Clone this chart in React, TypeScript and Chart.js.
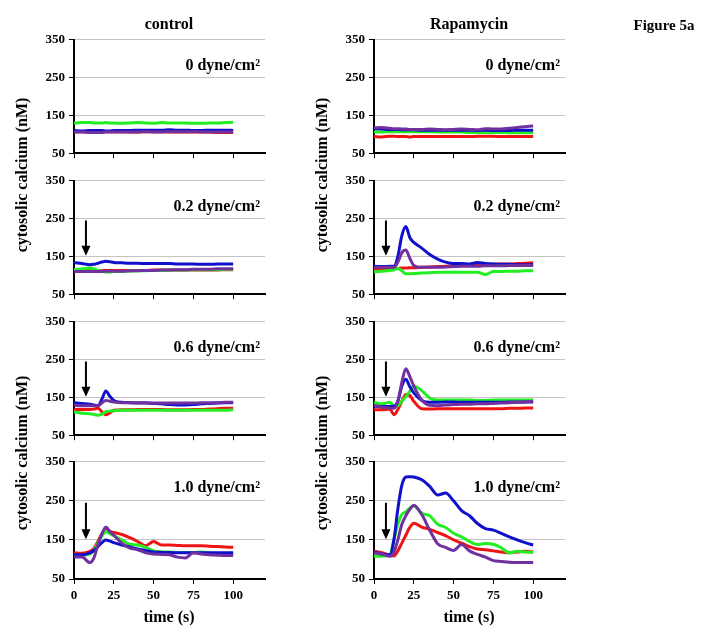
import React, { useEffect, useRef } from "react";
import { Chart, registerables } from "chart.js";

Chart.register(...registerables);

// ---------- data ----------
const TIME = [0, 5, 10, 12.5, 15, 17.5, 20, 22.5, 25, 30, 35, 40, 45, 50, 55, 60, 65, 70, 75, 80, 85, 90, 95, 100];
const X_TICK_STEP = 25;
const Y_TICKS = [50, 150, 250, 350];
const COLUMN_TITLES = ["control", "Rapamycin"];
const SHEAR_LABELS = ["0 dyne/cm²", "0.2 dyne/cm²", "0.6 dyne/cm²", "1.0 dyne/cm²"];
const FIGURE_LABEL = "Figure 5a";
const Y_TITLE = "cytosolic calcium (nM)";
const X_TITLE = "time (s)";
const ARROW_TIME = 7.5;
const ARROW_FROM = 245;
const ARROW_TO = 152;

// control, 0 dyne
const ctrl0Purple = [106, 106, 105, 105, 105, 105, 106, 106, 106, 106, 106, 106, 107, 106, 106, 107, 107, 107, 107, 106, 106, 106, 106, 106];
const ctrl0Blue = [110, 109, 110, 110, 110, 110, 109, 109, 110, 110, 110, 111, 111, 111, 111, 112, 111, 111, 110, 110, 111, 111, 111, 110];
const ctrl0Green = [129, 131, 131, 130, 130, 130, 131, 130, 130, 129, 130, 131, 130, 129, 131, 130, 130, 130, 129, 129, 130, 130, 131, 132];
const ctrl0Red = [107, 107, 106, 106, 107, 107, 107, 107, 107, 107, 106, 106, 107, 107, 107, 106, 106, 106, 106, 106, 106, 105, 105, 105];

// rapamycin, 0 dyne
const rapa0Purple = [117, 118, 116, 115, 115, 114, 114, 113, 113, 113, 114, 113, 112, 113, 114, 113, 112, 115, 114, 114, 116, 118, 120, 122];
const rapa0Blue = [115, 114, 113, 113, 113, 112, 112, 112, 112, 111, 111, 111, 111, 111, 111, 111, 110, 111, 110, 110, 110, 111, 111, 111];
const rapa0Green = [106, 106, 107, 107, 107, 107, 107, 107, 107, 107, 107, 106, 106, 106, 106, 105, 105, 105, 105, 105, 104, 104, 104, 104];
const rapa0Red = [94, 93, 95, 95, 94, 94, 94, 93, 94, 94, 94, 94, 94, 94, 94, 94, 95, 95, 95, 94, 94, 94, 94, 94];

// control, 0.2 dyne
const ctrl1Purple = [110, 110, 110, 110, 110, 110, 111, 111, 111, 111, 112, 112, 113, 113, 114, 114, 115, 115, 116, 116, 116, 117, 117, 117];
const ctrl1Blue = [134, 131, 128, 129, 132, 135, 137, 136, 134, 133, 132, 132, 131, 131, 131, 131, 130, 130, 130, 129, 129, 130, 130, 130];
const ctrl1Green = [115, 117, 119, 117, 113, 110, 109, 109, 110, 110, 111, 112, 112, 113, 113, 114, 114, 114, 115, 115, 115, 115, 116, 116];
const ctrl1Red = [112, 112, 112, 112, 112, 112, 113, 113, 113, 113, 113, 113, 113, 114, 114, 114, 114, 114, 114, 114, 114, 114, 115, 115];

// rapamycin, 0.2 dyne
const rapa1Purple = [121, 121, 121, 121, 135, 160, 167, 145, 126, 121, 121, 121, 122, 123, 124, 124, 124, 125, 125, 125, 126, 126, 126, 126];
const rapa1Blue = [124, 123, 124, 124, 150, 205, 229, 200, 187, 172, 155, 143, 135, 131, 131, 130, 134, 131, 130, 129, 129, 128, 128, 128];
const rapa1Green = [109, 111, 113, 114, 118, 112, 104, 104, 105, 106, 107, 108, 108, 108, 108, 108, 108, 102, 110, 110, 111, 111, 112, 112];
const rapa1Red = [116, 117, 118, 118, 118, 119, 119, 120, 120, 121, 122, 123, 124, 125, 126, 126, 127, 128, 129, 130, 130, 131, 132, 133];

// control, 0.6 dyne
const ctrl2Purple = [129, 128, 128, 128, 128, 135, 142, 140, 138, 136, 136, 136, 136, 135, 135, 135, 135, 135, 135, 136, 136, 136, 137, 137];
const ctrl2Blue = [136, 134, 132, 130, 128, 145, 167, 153, 142, 137, 136, 135, 135, 134, 133, 131, 130, 130, 131, 133, 134, 135, 136, 136];
const ctrl2Green = [112, 108, 107, 105, 103, 106, 112, 114, 115, 116, 116, 116, 116, 116, 116, 116, 116, 116, 116, 116, 116, 116, 116, 117];
const ctrl2Red = [118, 118, 118, 119, 121, 112, 104, 109, 116, 117, 117, 118, 118, 118, 118, 117, 117, 117, 118, 118, 119, 120, 121, 121];

// rapamycin, 0.6 dyne
const rapa2Purple = [129, 124, 122, 121, 140, 190, 226, 205, 180, 143, 129, 128, 130, 131, 132, 132, 133, 133, 134, 135, 136, 137, 138, 140];
const rapa2Blue = [127, 126, 126, 127, 140, 180, 198, 178, 162, 142, 137, 137, 138, 138, 137, 137, 137, 137, 137, 137, 138, 138, 138, 138];
const rapa2Green = [137, 133, 137, 126, 128, 140, 152, 166, 180, 168, 148, 143, 143, 143, 143, 143, 142, 142, 143, 143, 143, 143, 143, 143];
const rapa2Red = [117, 117, 119, 104, 118, 140, 158, 155, 140, 120, 119, 120, 120, 120, 120, 120, 120, 120, 120, 120, 121, 121, 122, 122];

// control, 1.0 dyne
const ctrl3Purple = [106, 106, 92, 104, 137, 165, 183, 172, 162, 142, 129, 125, 117, 114, 113, 112, 106, 104, 117, 114, 112, 111, 110, 110];
const ctrl3Blue = [112, 112, 117, 123, 133, 143, 150, 147, 143, 137, 132, 127, 123, 119, 118, 118, 117, 117, 117, 117, 117, 117, 117, 117];
const ctrl3Green = [112, 111, 114, 123, 142, 160, 171, 166, 161, 150, 139, 137, 131, 122, 120, 119, 118, 118, 118, 119, 117, 115, 115, 115];
const ctrl3Red = [117, 116, 121, 128, 146, 165, 179, 172, 169, 164, 156, 146, 135, 146, 137, 137, 136, 135, 135, 135, 134, 133, 132, 131];

// rapamycin, 1.0 dyne
const rapa3Purple = [117, 114, 108, 118, 150, 190, 212, 228, 239, 215, 175, 140, 131, 123, 138, 122, 113, 106, 97, 95, 93, 92, 92, 92];
const rapa3Blue = [119, 114, 112, 150, 230, 290, 311, 312, 311, 304, 287, 265, 270, 250, 225, 212, 192, 179, 175, 167, 158, 150, 143, 137];
const rapa3Green = [108, 108, 112, 150, 190, 215, 222, 232, 237, 218, 212, 190, 182, 167, 158, 146, 138, 141, 139, 130, 117, 121, 119, 118];
const rapa3Red = [121, 117, 111, 109, 122, 142, 162, 182, 193, 183, 177, 169, 161, 150, 142, 133, 127, 125, 122, 119, 117, 119, 121, 119];

// ---------- styling ----------
const COLORS = { purple: "#7030a0", blue: "#1010cc", green: "#22ee22", red: "#ee1414" };
const FONT = "'Liberation Serif', 'Times New Roman', serif";

const PANELS = [
  [
    [ctrl0Purple, ctrl0Blue, ctrl0Green, ctrl0Red],
    [ctrl1Purple, ctrl1Blue, ctrl1Green, ctrl1Red],
    [ctrl2Purple, ctrl2Blue, ctrl2Green, ctrl2Red],
    [ctrl3Purple, ctrl3Blue, ctrl3Green, ctrl3Red],
  ],
  [
    [rapa0Purple, rapa0Blue, rapa0Green, rapa0Red],
    [rapa1Purple, rapa1Blue, rapa1Green, rapa1Red],
    [rapa2Purple, rapa2Blue, rapa2Green, rapa2Red],
    [rapa3Purple, rapa3Blue, rapa3Green, rapa3Red],
  ],
];
const SERIES_COLORS = [COLORS.purple, COLORS.blue, COLORS.green, COLORS.red];

const COL_AXIS_X = [74, 374];
const ROW_TOP = [38, 179, 320, 460];
const PLOT_W = 191;
const PLOT_H = 119;
const Y_W = 45;
const PAD_TOP = 10;
const PAD_RIGHT = 4;

const arrowPlugin = {
  id: "arrow",
  afterDatasetsDraw(chart: any, _args: any, opts: any) {
    if (!opts || !opts.show) return;
    const { ctx, scales } = chart;
    const x = scales.x.getPixelForValue(ARROW_TIME);
    const y0 = scales.y.getPixelForValue(ARROW_FROM);
    const y1 = scales.y.getPixelForValue(ARROW_TO);
    ctx.save();
    ctx.strokeStyle = "#000";
    ctx.fillStyle = "#000";
    ctx.lineWidth = 2;
    ctx.beginPath();
    ctx.moveTo(x, y0);
    ctx.lineTo(x, y1 - 8);
    ctx.stroke();
    ctx.beginPath();
    ctx.moveTo(x - 4.5, y1 - 10);
    ctx.lineTo(x + 4.5, y1 - 10);
    ctx.lineTo(x, y1);
    ctx.closePath();
    ctx.fill();
    ctx.restore();
  },
};

function Panel({ col, row }: { col: number; row: number }) {
  const ref = useRef<HTMLCanvasElement>(null);
  const isBottom = row === 3;
  const xH = isBottom ? 30 : 8;
  const width = Y_W + PLOT_W + PAD_RIGHT;
  const height = PAD_TOP + PLOT_H + xH;
  const left = COL_AXIS_X[col] - Y_W;
  const top = ROW_TOP[row] - PAD_TOP;

  useEffect(() => {
    const series = PANELS[col][row];
    const tickFont = { family: FONT, size: 13, weight: "bold" as const };
    const chart = new Chart(ref.current!, {
      type: "line",
      data: {
        datasets: series.map((vals, i) => ({
          data: TIME.map((t, k) => ({ x: t, y: vals[k] })),
          borderColor: SERIES_COLORS[i],
          backgroundColor: SERIES_COLORS[i],
          borderWidth: 3,
          pointRadius: 0,
          cubicInterpolationMode: "monotone" as const,
          fill: false,
        })),
      },
      options: {
        responsive: false,
        animation: false,
        devicePixelRatio: 1,
        layout: { padding: { top: PAD_TOP, right: PAD_RIGHT, left: 0, bottom: 0 } },
        plugins: {
          legend: { display: false },
          tooltip: { enabled: false },
          title: { display: false },
          arrow: { show: row > 0 },
        } as any,
        scales: {
          x: {
            type: "linear",
            min: 0,
            max: 120,
            ticks: {
              stepSize: X_TICK_STEP,
              includeBounds: false,
              display: isBottom,
              font: tickFont,
              color: "#000",
              padding: 4,
              maxRotation: 0,
            },
            grid: { drawOnChartArea: false, drawTicks: true, tickLength: 5, tickColor: "#000" },
            border: { color: "#000", width: 2 },
            afterFit: (s: any) => {
              s.height = xH;
            },
          },
          y: {
            type: "linear",
            min: Y_TICKS[0],
            max: Y_TICKS[Y_TICKS.length - 1],
            ticks: { stepSize: 100, font: tickFont, color: "#000", padding: 4 },
            grid: { color: "#c4c4c4", lineWidth: 1, tickLength: 5, tickColor: "#000" },
            border: { color: "#000", width: 2 },
            afterFit: (s: any) => {
              s.width = Y_W;
            },
          },
        },
      },
      plugins: [arrowPlugin],
    });
    return () => chart.destroy();
  }, [col, row]);

  return (
    <canvas
      ref={ref}
      width={width}
      height={height}
      style={{ position: "absolute", left, top, width, height }}
    />
  );
}

const textBase: React.CSSProperties = {
  position: "absolute",
  fontFamily: FONT,
  fontWeight: "bold",
  color: "#000",
  whiteSpace: "nowrap",
  lineHeight: 1,
};

export default function App() {
  const texts: React.ReactNode[] = [];
  COLUMN_TITLES.forEach((t, c) => {
    texts.push(
      <div key={"ct" + c} style={{ ...textBase, fontSize: 16, left: COL_AXIS_X[c] + 95, top: 24, transform: "translate(-50%, -50%)" }}>
        {t}
      </div>
    );
    SHEAR_LABELS.forEach((s, r) => {
      texts.push(
        <div key={"sl" + c + r} style={{ ...textBase, fontSize: 16, left: COL_AXIS_X[c] + 186, top: ROW_TOP[r] + 27, transform: "translate(-100%, -50%)" }}>
          {s}
        </div>
      );
    });
    [175, 453].forEach((cy, i) => {
      texts.push(
        <div key={"yl" + c + i} style={{ ...textBase, fontSize: 16, left: COL_AXIS_X[c] - 52, top: cy, transform: "translate(-50%, -50%) rotate(-90deg)" }}>
          {Y_TITLE}
        </div>
      );
    });
    texts.push(
      <div key={"xt" + c} style={{ ...textBase, fontSize: 16, left: COL_AXIS_X[c] + 95, top: 617, transform: "translate(-50%, -50%)" }}>
        {X_TITLE}
      </div>
    );
  });
  texts.push(
    <div key="fig" style={{ ...textBase, fontSize: 15, left: 664, top: 25, transform: "translate(-50%, -50%)" }}>
      {FIGURE_LABEL}
    </div>
  );

  const panels: React.ReactNode[] = [];
  for (let c = 0; c < 2; c++) for (let r = 0; r < 4; r++) panels.push(<Panel key={c + "-" + r} col={c} row={r} />);

  return (
    <div style={{ position: "absolute", left: 0, top: 0, width: 708, height: 638, background: "#fff", overflow: "hidden" }}>
      {panels}
      {texts}
    </div>
  );
}
